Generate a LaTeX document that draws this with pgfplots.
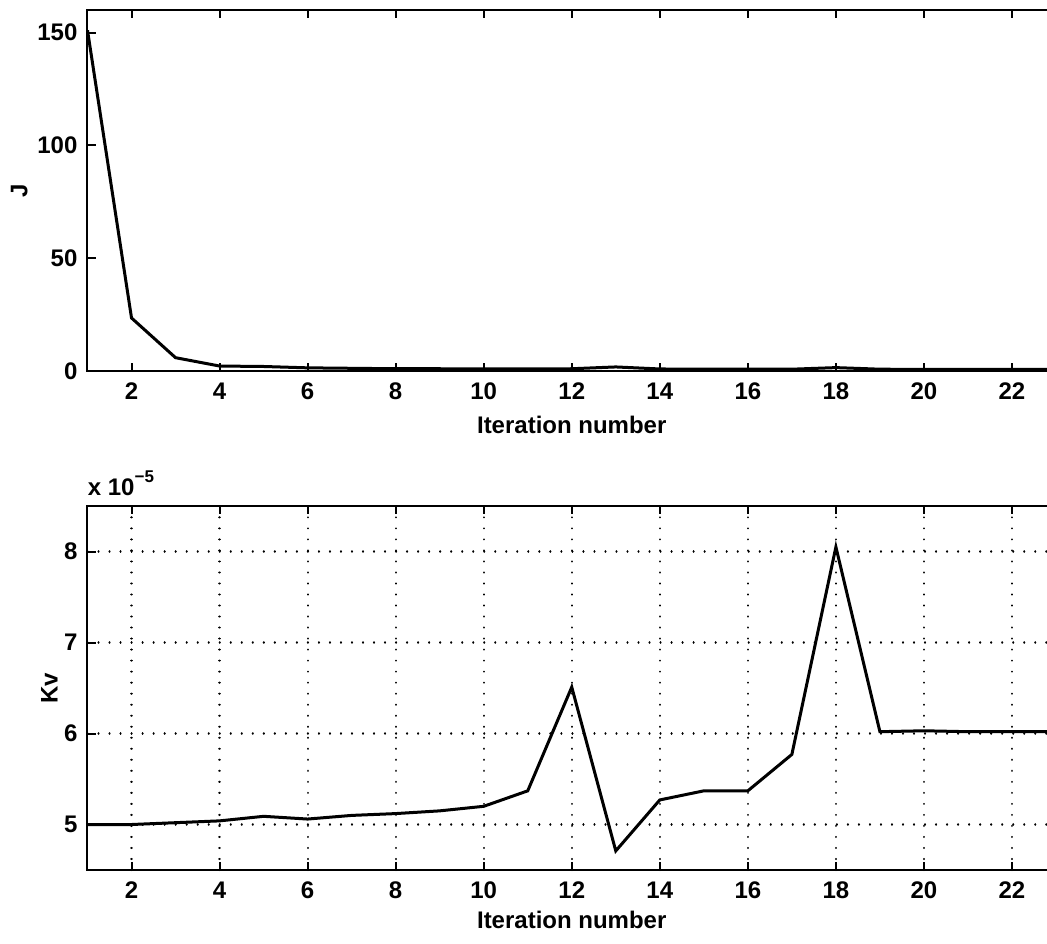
\documentclass[border=0pt]{standalone}
\usepackage{fontspec}
\setmainfont{Liberation Sans}
\usepackage{pgfplots}
\pgfplotsset{compat=1.18}
\begin{document}
\begin{tikzpicture}
\pgfplotsset{
  every axis/.append style={
    scale only axis,
    width=484.25pt,
    xmin=1, xmax=23,
    xtick={2,4,...,22},
    axis line style={line width=1pt},
    tick style={line width=1pt, black},
    major tick length=4pt,
    tick align=inside,
    /pgf/number format/assume math mode=true,
    ticklabel style={font=\bfseries\fontsize{12}{14}\selectfont},
    label style={font=\bfseries\fontsize{12}{14}\selectfont},
    xticklabel style={anchor=base, yshift=-14pt},
    yticklabel style={xshift=-1.5pt},
    xlabel style={at={(axis description cs:0.5,0)}, anchor=base},
    ylabel style={at={(axis description cs:0,0.5)}, anchor=base},
  }
}
% Top axis: J
\begin{axis}[
  at={(43.75pt,286pt)}, anchor=south west,
  height=180.5pt,
  ymin=0, ymax=160,
  ytick={0,50,100,150},
  xlabel={Iteration number},
  xlabel style={yshift=-31pt},
  ylabel={J},
  ylabel style={yshift=30pt},
]
\addplot[black, line width=1.5pt] coordinates {
(1,151) (2,23.5) (3,5.9) (4,2.2) (5,2.0) (6,1.4) (7,1.2) (8,1.0) (9,1.0)
(10,0.9) (11,0.9) (12,1.0) (13,1.8) (14,0.9) (15,0.8) (16,0.8) (17,0.8)
(18,1.5) (19,0.8) (20,0.7) (21,0.7) (22,0.7) (23,0.7)
};
\end{axis}
% Bottom axis: Kv
\begin{axis}[
  name=kv,
  at={(43.75pt,36.5pt)}, anchor=south west,
  height=182pt,
  ymin=4.5, ymax=8.5,
  ytick={5,6,7,8},
  grid=major,
  major grid style={black, line width=1.1pt, dash pattern=on 0.01pt off 5.5pt, line cap=round},
  xlabel={Iteration number},
  xlabel style={yshift=-29pt},
  ylabel={Kv},
  ylabel style={yshift=15pt},
]
\addplot[black, line width=1.5pt] coordinates {
(1,5.00) (2,5.00) (3,5.02) (4,5.04) (5,5.09) (6,5.06) (7,5.10) (8,5.12)
(9,5.15) (10,5.20) (11,5.37) (12,6.51) (13,4.71) (14,5.27) (15,5.37)
(16,5.37) (17,5.77) (18,8.05) (19,6.02) (20,6.03) (21,6.02) (22,6.02) (23,6.02)
};
\end{axis}
\node[anchor=base west, font=\bfseries\fontsize{12}{14}\selectfont, inner sep=0pt]
  at ([yshift=5.5pt]kv.north west) {x 10\raisebox{1.0ex}{\fontsize{8.5}{10}\selectfont −5}};
\pgfresetboundingbox
\useasboundingbox (0,0) rectangle (523.5pt,471.5pt);
\end{tikzpicture}
\end{document}
